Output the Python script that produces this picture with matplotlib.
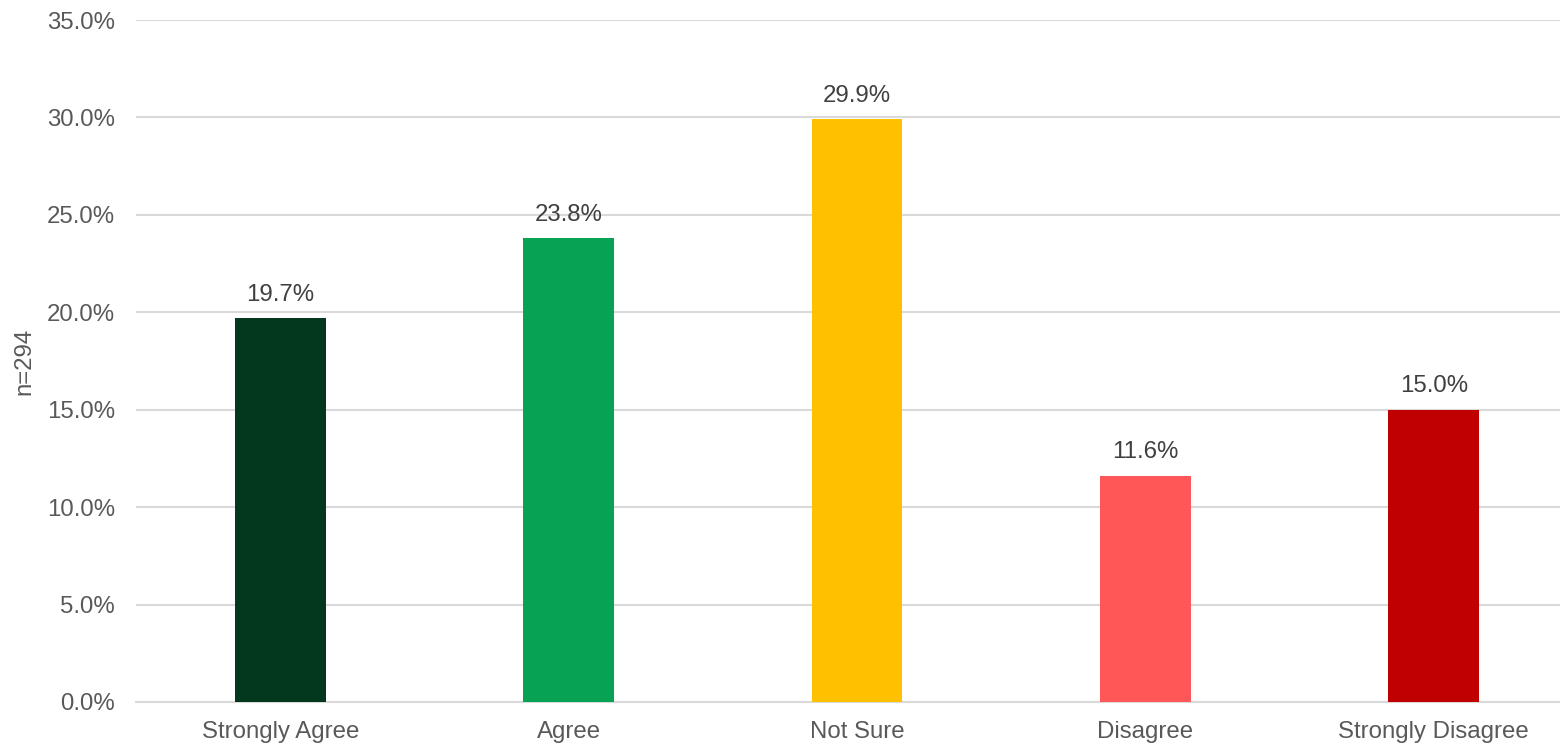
import matplotlib
matplotlib.use("Agg")
import matplotlib.pyplot as plt
from matplotlib.ticker import FuncFormatter, MultipleLocator

categories = ["Strongly Agree", "Agree", "Not Sure", "Disagree", "Strongly Disagree"]
values = [19.7, 23.8, 29.9, 11.6, 15.0]
colors = ["#03371E", "#07A254", "#FFC000", "#FF5757", "#C00000"]
ylabel = "n=294"

plt.rcParams['font.family'] = ['Liberation Sans', 'DejaVu Sans']

fig = plt.figure(figsize=(15.6, 7.49), dpi=100)
ax = fig.add_axes([136/1560, 1 - 702/749, 1442/1560, (702 - 20)/749])

x = list(range(len(categories)))
ax.bar(x, values, width=0.315, color=colors, zorder=3)
for xi, v in zip(x, values):
    ax.annotate(f"{v:.1f}%", (xi, v), xytext=(0, 9), textcoords="offset points",
                ha="center", va="bottom", fontsize=17.3, color="#404040")

ax.set_xlim(-0.5, 4.5)
ax.set_ylim(0, 35)
ax.yaxis.set_major_locator(MultipleLocator(5))
ax.yaxis.set_major_formatter(FuncFormatter(lambda v, p: f"{v:.1f}%"))
ax.set_xticks(x)
ax.set_xticklabels(categories)
ax.grid(axis="y", color="#D9D9D9", linewidth=1.5, zorder=0)
for s in ["top", "right", "left"]:
    ax.spines[s].set_visible(False)
ax.spines["bottom"].set_color("#D9D9D9")
ax.spines["bottom"].set_linewidth(1.5)
ax.tick_params(axis="both", length=0, labelsize=17.3, labelcolor="#595959")
ax.tick_params(axis="y", pad=15)
ax.tick_params(axis="x", pad=14)
ax.set_ylabel(ylabel, fontsize=17.3, color="#595959", labelpad=8)

fig.savefig("out.png", dpi=100)
